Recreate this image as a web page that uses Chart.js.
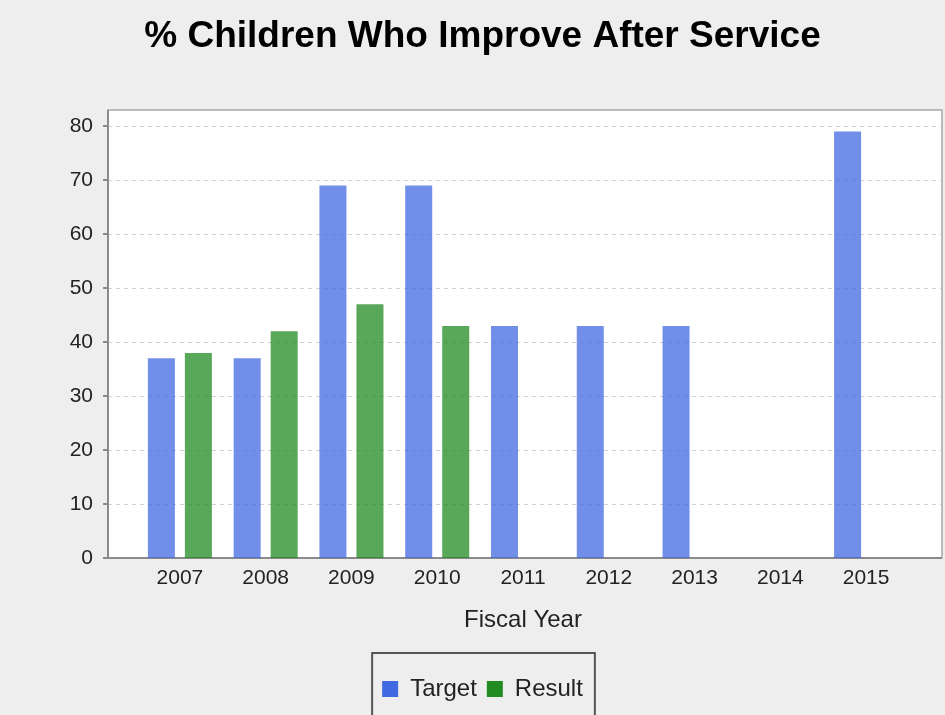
<!DOCTYPE html>
<html>
<head>
<meta charset="utf-8">
<script src="https://cdn.jsdelivr.net/npm/chart.js@4/dist/chart.umd.min.js"></script>
<style>
  html, body { margin: 0; padding: 0; background: #eeeeee; }
  #wrap { width: 945px; height: 715px; }
</style>
</head>
<body>
<div id="wrap"><canvas id="improveChart"></canvas></div>
<script>
const years = ['2007', '2008', '2009', '2010', '2011', '2012', '2013', '2014', '2015'];
const targetValues = [37, 37, 69, 69, 43, 43, 43, null, 79];
const resultValues = [38, 42, 47, 43, null, null, null, null, null];
const yTickValues = [0, 10, 20, 30, 40, 50, 60, 70, 80];
const yMax = 83;

const seriesColors = ['#4169e1', '#228b22'];
const barColors = ['rgba(65,105,225,0.75)', 'rgba(34,139,34,0.75)'];

Chart.defaults.font.family = "'Liberation Sans', Arial, sans-serif";

// white plot area with margins left/right of the categories, dashed grid, frame
const plotFrame = {
    id: 'plotFrame',
    beforeDatasetsDraw(chart) {
        const { ctx, chartArea: a, scales: { y } } = chart;
        const left = a.left - 29, right = a.right + 33;
        ctx.save();
        ctx.fillStyle = '#ffffff';
        ctx.fillRect(left, a.top, right - left, a.bottom - a.top);
        ctx.strokeStyle = '#d2d2d2';
        ctx.lineWidth = 1;
        ctx.setLineDash([4, 4]);
        y.ticks.forEach(t => {
            if (t.value === 0) return;
            const py = Math.round(y.getPixelForValue(t.value)) + 0.5;
            ctx.beginPath(); ctx.moveTo(left, py); ctx.lineTo(right, py); ctx.stroke();
        });
        ctx.setLineDash([]);
        ctx.strokeStyle = '#a8a8a8';
        ctx.lineWidth = 1.5;
        ctx.strokeRect(left, a.top, right - left, a.bottom - a.top);
        ctx.strokeStyle = '#8a8a8a';
        ctx.lineWidth = 2;
        ctx.beginPath();
        ctx.moveTo(left, a.top); ctx.lineTo(left, a.bottom); ctx.lineTo(right, a.bottom);
        ctx.stroke();
        y.ticks.forEach(t => {
            const py = Math.round(y.getPixelForValue(t.value));
            ctx.beginPath(); ctx.moveTo(left - 5, py); ctx.lineTo(left, py); ctx.stroke();
        });
        ctx.restore();
    },
    afterDraw(chart) {
        const { ctx, legend } = chart;
        const hb = legend.legendHitBoxes;
        if (!hb || !hb.length) return;
        const first = hb[0], last = hb[hb.length - 1];
        const cy = first.top + first.height / 2;
        ctx.save();
        ctx.strokeStyle = '#555555';
        ctx.lineWidth = 2;
        ctx.strokeRect(first.left - 10, cy - 36, last.left + last.width - first.left + 22, 120);
        ctx.restore();
    }
};

new Chart(document.getElementById('improveChart'), {
    type: 'bar',
    data: {
        labels: years,
        datasets: [
            { label: 'Target', data: targetValues, backgroundColor: barColors[0] },
            { label: 'Result', data: resultValues, backgroundColor: barColors[1] }
        ]
    },
    options: {
        responsive: true,
        maintainAspectRatio: false,
        animation: false,
        categoryPercentage: 0.863,
        barPercentage: 0.73,
        layout: { padding: { left: 20, right: 0, top: 0, bottom: 4 } },
        plugins: {
            title: {
                display: true,
                text: '% Children Who Improve After Service',
                color: '#000000',
                font: { size: 37, weight: 'bold' },
                padding: { top: 15, bottom: 50.6 }
            },
            legend: {
                position: 'bottom',
                labels: {
                    color: '#222222',
                    font: { size: 24 },
                    boxWidth: 16,
                    boxHeight: 16,
                    padding: 10,
                    generateLabels: chart => Chart.defaults.plugins.legend.labels.generateLabels(chart)
                        .map((it, i) => Object.assign(it, { fillStyle: seriesColors[i], strokeStyle: seriesColors[i], lineWidth: 0 }))
                }
            },
            tooltip: { enabled: false }
        },
        scales: {
            x: {
                grid: { display: false, drawTicks: false },
                border: { display: false },
                ticks: { color: '#222222', font: { size: 21 }, padding: 8 },
                title: { display: true, text: 'Fiscal Year', color: '#222222', font: { size: 24 }, padding: { top: 15, bottom: 32 } },
                afterFit: s => { s.height = 109; }
            },
            y: {
                min: 0,
                max: yMax,
                grid: { display: false, drawTicks: false },
                border: { display: false },
                ticks: { color: '#222222', font: { size: 21 }, padding: 44 },
                afterBuildTicks: s => { s.ticks = yTickValues.map(v => ({ value: v })); },
                afterFit: s => { s.width = 117; }
            },
            yRight: {
                position: 'right',
                grid: { display: false, drawTicks: false },
                border: { display: false },
                ticks: { display: false },
                afterFit: s => { s.width = 36; }
            }
        }
    },
    plugins: [plotFrame]
});
</script>
</body>
</html>
